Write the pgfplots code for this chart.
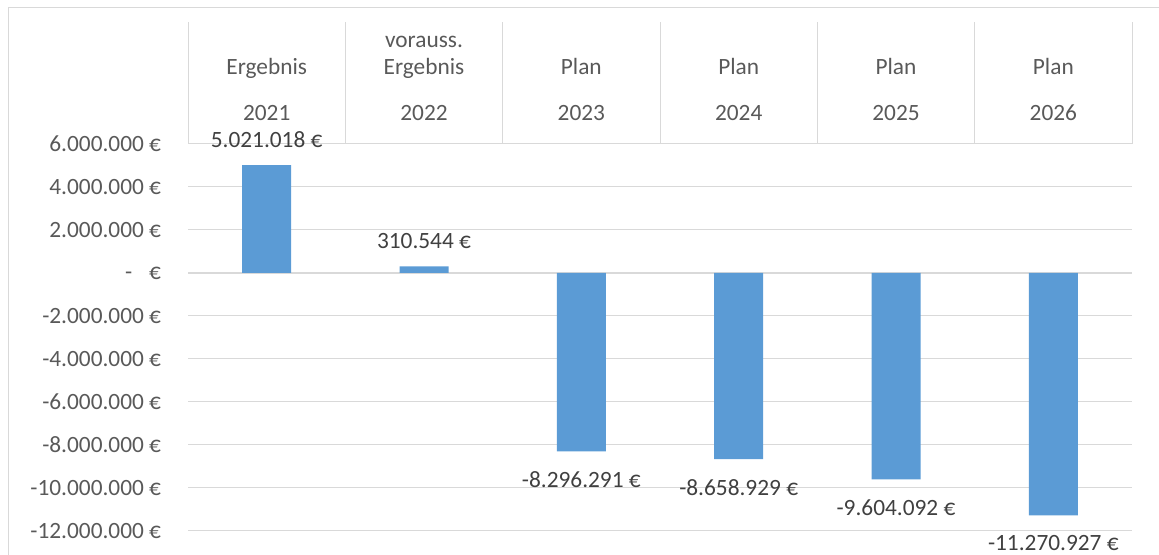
\documentclass[border=0pt]{standalone}
\usepackage{fontspec}
\setmainfont{Carlito}
\usepackage{pgfplots}
\pgfplotsset{compat=1.18}
\definecolor{barblue}{HTML}{5B9BD5}
\definecolor{gridgray}{HTML}{D9D9D9}
\definecolor{txtgray}{HTML}{595959}
\definecolor{lblgray}{HTML}{404040}
\begin{document}
\begin{tikzpicture}[x=0.75pt,y=0.75pt,font=\fontsize{17.5}{19.9}\selectfont]
\begin{axis}[
  at={(141pt,18pt)}, anchor=south west,
  scale only axis, width=708pt, height=290.25pt,
  xmin=-0.5, xmax=5.5, ymin=-12000000, ymax=6000000,
  axis line style={draw=none},
  ymajorgrids, grid style={gridgray, line width=0.75pt},
  ytick={-12000000,-10000000,-8000000,-6000000,-4000000,-2000000,0,2000000,4000000,6000000},
  yticklabels={-12.000.000 €,-10.000.000 €,-8.000.000 €,-6.000.000 €,-4.000.000 €,-2.000.000 €,{-\hspace{12.75pt}€},2.000.000 €,4.000.000 €,6.000.000 €},
  scaled y ticks=false,
  major tick length=0pt,
  yticklabel style={anchor=east, inner sep=0pt, xshift=-20pt, text=txtgray},
  xtick={0,1,2,3,4,5},
  xticklabels={{Ergebnis\\[14.6pt]2021},{vorauss.\\Ergebnis\\[14.6pt]2022},{Plan\\[14.6pt]2023},{Plan\\[14.6pt]2024},{Plan\\[14.6pt]2025},{Plan\\[14.6pt]2026}},
  xticklabel pos=upper,
  xticklabel style={anchor=south, align=center, inner sep=0pt, yshift=17.5pt, text=txtgray},
  clip=false,
  ybar,
  point meta=explicit symbolic,
]
\draw[gridgray, line width=1.5pt] (axis cs:-0.5,0) -- (axis cs:5.5,0);
\addplot[fill=barblue, draw=none, bar width=36.75pt, bar shift=0pt,
  nodes near coords,
  every node near coord/.style={anchor=center, inner sep=0pt, yshift=18.75pt, text=lblgray}]
  coordinates {(0,5021018) [5.021.018 €] (1,310544) [310.544 €]};
\addplot[fill=barblue, draw=none, bar width=36.75pt, bar shift=0pt,
  nodes near coords,
  every node near coord/.style={anchor=center, inner sep=0pt, yshift=-21pt, text=lblgray}]
  coordinates {(2,-8296291) [-8.296.291 €] (3,-8658929) [-8.658.929 €] (4,-9604092) [-9.604.092 €] (5,-11270927) [-11.270.927 €]};
\end{axis}
\foreach \k in {0,...,6} \draw[gridgray, line width=0.75pt] (188+157.333*\k,411) -- ++(0,122);
\draw[gridgray, line width=0.75pt] (8,0) -- (8,547) -- (1159,547);
\pgfresetboundingbox
\path (0,0) rectangle (1159,555);
\end{tikzpicture}
\end{document}
